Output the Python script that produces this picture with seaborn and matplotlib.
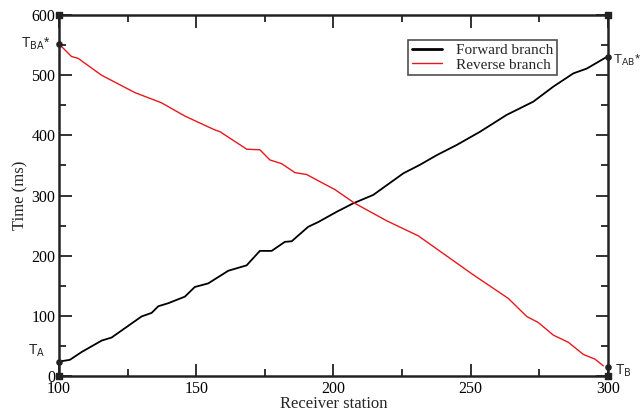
import matplotlib
matplotlib.use("Agg")
import matplotlib.pyplot as plt
import seaborn as sns
import pandas as pd
from matplotlib.ticker import MultipleLocator

fwd_x = [100, 104, 108.3, 115.6, 119.2, 130.1, 133.8, 136.2, 139.8, 145.9, 149.5, 154.4,
         161.7, 168.4, 173.2, 177.5, 182.3, 184.8, 190.8, 194.5, 201.2, 207.2, 214.5,
         225.5, 231.5, 237.6, 244.9, 253.4, 263.1, 272.8, 280.1, 287.4, 292.3, 299.8]
fwd_y = [24, 27, 40, 59, 64, 99, 105, 116, 121, 132, 148, 154,
         175, 184, 208, 208, 223, 224, 248, 256, 273, 287, 301,
         337, 351, 367, 384, 406, 434, 456, 481, 503, 511, 531]

rev_x = [100, 104.6, 107, 115.5, 127.7, 137.4, 145.9, 156.8, 158.7, 168.4, 173.2, 176.9,
         181.1, 186, 190.2, 195.1, 200.5, 207.8, 219.4, 230.9, 251, 263.7, 270.4, 274.6,
         280.1, 285.6, 291, 295.3, 298.3]
rev_y = [552, 531, 528, 500, 471, 454, 432, 409, 406, 377, 376, 359,
         353, 338, 335, 323, 310, 287, 258, 233, 168, 129, 99, 89,
         68, 56, 36, 28, 17]

series_names = ["Forward branch", "Reverse branch"]
endpoint_labels = [r"T$_{\mathrm{A}}$", r"T$_{\mathrm{BA}}$*", r"T$_{\mathrm{AB}}$*", r"T$_{\mathrm{B}}$"]
endpoint_x = [100, 100, 300, 300]
endpoint_y = [24, 552, 531, 15]

sns.set_style("ticks")
plt.rcParams["font.family"] = ["Liberation Serif", "DejaVu Serif"]
plt.rcParams["mathtext.fontset"] = "dejavusans"

df_f = pd.DataFrame({"x": fwd_x, "y": fwd_y, "s": series_names[0]})
df_r = pd.DataFrame({"x": rev_x, "y": rev_y, "s": series_names[1]})

fig = plt.figure(figsize=(6.4, 4.16), dpi=100)
ax = fig.add_axes([0.092, 0.096, 0.858, 0.868])

sns.lineplot(data=df_f, x="x", y="y", color="black", lw=1.3, ax=ax, label=series_names[0])
sns.lineplot(data=df_r, x="x", y="y", color="#e8171e", lw=1.0, ax=ax, label=series_names[1])

ax.set_xlim(100, 300)
ax.set_ylim(0, 600)
ax.xaxis.set_major_locator(MultipleLocator(50))
ax.xaxis.set_minor_locator(MultipleLocator(25))
ax.yaxis.set_major_locator(MultipleLocator(100))
ax.yaxis.set_minor_locator(MultipleLocator(50))
ax.tick_params(which="both", direction="in", top=True, right=True, width=1.3, colors="#222222",
               labelsize=11.5, labelcolor="black")
ax.tick_params(which="major", length=9)
ax.tick_params(axis="x", which="major", pad=3.5)
ax.tick_params(axis="y", which="major", pad=2.5)
ax.tick_params(which="minor", length=5)
for sp in ax.spines.values():
    sp.set_linewidth(1.8)
    sp.set_color("#222222")

ax.set_xlabel("Receiver station", fontsize=12, labelpad=-1)
ax.set_ylabel("Time (ms)", fontsize=12, labelpad=2)

# endpoint markers
ax.scatter(endpoint_x, endpoint_y, s=14, color="#222222", zorder=5, clip_on=False)
ax.scatter([100, 100, 300, 300], [0, 600, 0, 600], s=14, marker="s", color="#222222",
           zorder=5, clip_on=False)

sans = ["Liberation Sans", "DejaVu Sans"]
ax.annotate(endpoint_labels[0], (100, endpoint_y[0]), xytext=(-22, 2), textcoords="offset points",
            fontsize=10, family=sans, va="bottom", ha="left")
ax.annotate(endpoint_labels[1], (100, endpoint_y[1]), xytext=(-27, 0), textcoords="offset points",
            fontsize=10, family=sans, va="center", ha="left")
ax.annotate(endpoint_labels[2], (300, endpoint_y[2]), xytext=(3.5, -3), textcoords="offset points",
            fontsize=9.5, family=sans, va="center", ha="left")
ax.annotate(endpoint_labels[3], (300, endpoint_y[3]), xytext=(5, -3), textcoords="offset points",
            fontsize=10, family=sans, va="center", ha="left")

leg = ax.legend(loc="upper right", bbox_to_anchor=(0.907, 0.932), frameon=True, fancybox=False,
                edgecolor="#222222", fontsize=11, handlelength=2.0, borderpad=0.25,
                labelspacing=0.05, handletextpad=0.9, borderaxespad=0)
leg.get_frame().set_linewidth(1.2)
leg.get_lines()[0].set_linewidth(2.0)

fig.savefig("out.png", dpi=100)
